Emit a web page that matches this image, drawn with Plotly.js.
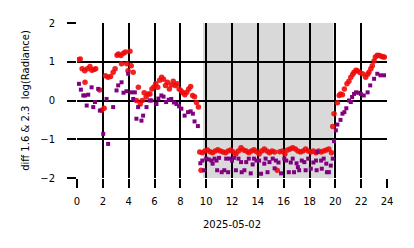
<!DOCTYPE html>
<html>
<head>
<meta charset="utf-8">
<script src="https://cdn.plot.ly/plotly-3.0.1.min.js"></script>
<style>html,body{margin:0;padding:0;background:#fff;}#chart{width:414px;height:248px;}</style>
</head>
<body>
<div id="chart"></div>
<script>
// Hours of day (2025-05-02) and diff values
const redHours = [0.1,0.25,0.4,0.6,0.62,0.8,1.0,1.15,1.3,1.45,1.75,1.9,2.1,2.2,2.4,2.6,2.8,2.95,3.1,3.2,3.4,3.45,3.6,3.75,3.85,3.95,4.1,4.2,4.35,4.6,4.75,4.9,5.05,5.2,5.35,5.5,5.65,5.8,5.95,6.1,6.25,6.4,6.55,6.7,6.85,7.0,7.15,7.3,7.45,7.6,7.75,7.9,8.05,8.2,8.35,8.5,8.65,8.8,8.95,9.1,9.25,9.4,9.5,9.6,
  9.7,9.9,10.1,10.3,10.5,10.7,10.9,11.1,11.3,11.5,11.7,11.9,12.1,12.3,12.5,12.7,12.9,13.1,13.3,13.5,13.7,13.9,14.1,14.3,14.5,14.7,14.9,15.1,15.3,15.5,15.7,15.9,16.1,16.3,16.5,16.7,16.9,17.1,17.3,17.5,17.7,17.9,18.1,18.3,18.5,18.7,18.9,19.1,19.3,19.5,19.7,
  19.8,19.9,20.16,20.3,20.4,20.55,20.7,20.9,21.05,21.2,21.35,21.45,21.6,21.7,21.9,22.1,22.35,22.5,22.6,22.75,22.86,23.0,23.1,23.25,23.4,23.55,23.7,23.8];
const redValues = [1.05,1.07,0.82,0.77,0.47,0.82,0.88,0.78,0.8,0.82,0.27,-0.25,-0.2,0.64,0.6,0.62,0.73,0.82,1.17,1.2,1.16,0.95,1.22,1.25,0.95,0.77,1.27,0.9,0.73,0.0,0.34,-0.09,0.0,0.2,0.09,0.17,0.17,0.3,0.35,0.43,0.34,0.52,0.6,0.55,0.39,0.47,0.3,0.4,0.5,0.39,0.43,0.3,0.25,0.2,0.15,0.21,0.3,0.36,0.13,0.1,-0.05,-0.17,-1.33,-1.8,
  -1.35,-1.3,-1.28,-1.32,-1.35,-1.3,-1.27,-1.3,-1.33,-1.35,-1.3,-1.28,-1.33,-1.38,-1.3,-1.22,-1.28,-1.3,-1.35,-1.3,-1.27,-1.32,-1.38,-1.3,-1.25,-1.3,-1.35,-1.3,-1.33,-1.8,-1.32,-1.3,-1.38,-1.28,-1.25,-1.22,-1.25,-1.3,-1.33,-1.3,-1.25,-1.3,-1.33,-1.3,-1.35,-1.3,-1.33,-1.3,-1.28,-1.25,-1.35,
  -0.67,-0.34,-0.06,0.13,0.17,0.15,0.3,0.43,0.5,0.6,0.68,0.73,0.78,0.77,0.72,0.69,0.6,0.68,0.73,0.82,0.9,1.02,1.12,1.17,1.16,1.14,1.12,1.12];

const purpleHours = [0.15,0.3,0.49,0.62,0.75,0.87,1.13,1.26,1.39,1.64,1.77,2.03,2.29,2.41,2.8,3.06,3.19,3.45,3.6,3.83,3.96,4.2,4.35,4.48,4.6,4.73,4.99,5.12,5.38,5.63,5.76,6.15,6.3,6.53,6.7,6.9,7.1,7.3,7.5,7.7,7.9,8.08,8.33,8.6,8.8,8.97,9.1,9.36,
  9.55,9.7,9.85,10.0,10.2,10.4,10.5,10.65,10.8,10.85,11.0,11.2,11.4,11.55,11.7,11.8,12.0,12.15,12.3,12.5,12.7,12.75,12.96,13.1,13.3,13.45,13.6,13.7,13.9,14.1,14.25,14.5,14.6,14.75,14.9,15.15,15.3,15.4,15.6,15.8,16.05,16.2,16.4,16.55,16.7,16.8,17.0,17.1,17.2,17.4,17.6,17.7,17.9,18.1,18.3,18.5,18.55,18.6,18.9,18.95,19.1,19.3,19.35,19.5,19.65,19.8,
  19.9,20.04,20.16,20.4,20.55,20.7,20.85,21.06,21.2,21.3,21.45,21.6,21.8,21.97,22.2,22.5,22.7,23.0,23.25,23.5,23.77];
const purpleValues = [0.43,0.28,0.13,0.13,-0.13,0.15,0.34,-0.17,-0.04,0.3,-0.26,-0.86,0.04,-1.12,-0.17,0.26,0.39,0.47,0.2,0.24,0.69,0.21,0.04,0.21,-0.47,-0.17,-0.52,-0.39,-0.17,0.0,0.0,-0.09,0.05,0.13,0.1,-0.04,0.02,0.04,-0.05,-0.09,-0.15,-0.21,-0.39,-0.3,-0.28,-0.34,-0.54,-0.66,
  -1.62,-1.55,-1.8,-1.5,-1.52,-1.55,-1.63,-1.5,-1.55,-1.8,-1.48,-1.85,-1.8,-1.5,-1.85,-1.5,-1.55,-1.48,-1.8,-1.5,-1.59,-1.85,-1.8,-1.59,-1.5,-1.88,-1.65,-1.5,-1.55,-1.55,-1.89,-1.63,-1.5,-1.85,-1.59,-1.5,-1.75,-1.55,-1.6,-1.88,-1.5,-1.55,-1.85,-1.6,-1.5,-1.85,-1.62,-1.72,-1.8,-1.55,-1.59,-1.8,-1.5,-1.76,-1.6,-1.55,-1.8,-1.33,-1.55,-1.76,-1.5,-1.63,-1.85,-1.85,-1.68,-1.5,
  -1.05,-0.77,-0.62,-0.5,-0.34,-0.3,-0.2,0.0,-0.04,0.09,0.17,0.21,0.2,0.17,0.13,0.21,0.39,0.56,0.69,0.65,0.65];

const xTicks = [0,2,4,6,8,10,12,14,16,18,20,22,24];
const yTicks = [-2,-1,0,1,2];
const nightStart = 9.75, nightEnd = 19.85;

const font = {family: 'DejaVu Sans, sans-serif', size: 10, color: '#000'};

const traces = [
  {x: redHours, y: redValues, type: 'scatter', mode: 'markers',
   marker: {color: 'rgba(240,10,10,0.9)', size: 5.5, symbol: 'circle', line: {width: 0}}, hoverinfo: 'skip'},
  {x: purpleHours, y: purpleValues, type: 'scatter', mode: 'markers',
   marker: {color: '#800080', size: 4, symbol: 'square', line: {width: 0}}, hoverinfo: 'skip'}
];

const layout = {
  width: 414, height: 248,
  margin: {l: 77, r: 27, t: 23, b: 70, pad: 0},
  paper_bgcolor: '#fff', plot_bgcolor: '#fff',
  showlegend: false,
  font: font,
  xaxis: {
    range: [0, 24], tickvals: xTicks, ticktext: xTicks.map(String),
    showgrid: true, gridcolor: '#000', gridwidth: 2,
    zeroline: false, showline: false,
    ticks: 'outside', ticklen: 9, tickwidth: 2, tickcolor: '#000',
    tickfont: font, ticklabelstandoff: 5,
    title: {text: '2025-05-02', font: font, standoff: 14}
  },
  yaxis: {
    range: [-2, 2], tickvals: yTicks,
    showgrid: true, gridcolor: '#000', gridwidth: 2,
    zeroline: false, showline: false,
    ticks: 'outside', ticklen: 9, tickwidth: 2, tickcolor: '#000',
    tickfont: font, ticklabelstandoff: 10,
    title: {text: 'diff 1.6 &amp; 2.3  log(Radiance)', font: font, standoff: 8}
  },
  shapes: [{type: 'rect', xref: 'x', yref: 'paper', x0: nightStart, x1: nightEnd, y0: 0, y1: 1,
    fillcolor: '#d9d9d9', line: {width: 0}, layer: 'below'}]
};

Plotly.newPlot('chart', traces, layout, {staticPlot: true, displayModeBar: false});
</script>
</body>
</html>
